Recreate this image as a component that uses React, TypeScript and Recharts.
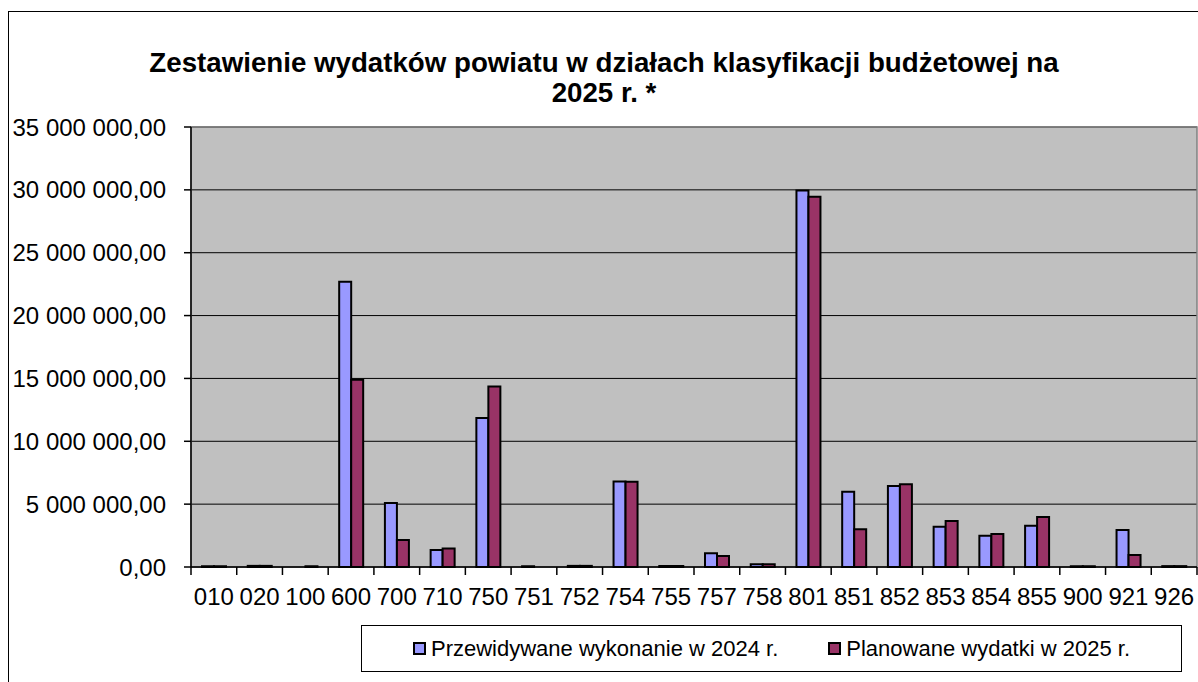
import { BarChart, Bar, XAxis, YAxis, CartesianGrid, ReferenceArea } from 'recharts';

const categories = ['010', '020', '100', '600', '700', '710', '750', '751', '752', '754', '755', '757', '758', '801', '851', '852', '853', '854', '855', '900', '921', '926'];
const wykonanie2024 = [60000, 90000, 0, 22700000, 5100000, 1350000, 11850000, 60000, 90000, 6800000, 80000, 1100000, 220000, 29950000, 5980000, 6450000, 3200000, 2480000, 3280000, 60000, 2950000, 70000];
const plan2025 = [60000, 90000, 60000, 14900000, 2150000, 1480000, 14350000, 0, 90000, 6780000, 80000, 880000, 220000, 29450000, 3000000, 6580000, 3650000, 2620000, 3980000, 60000, 960000, 70000];
const yTicks = [0, 5000000, 10000000, 15000000, 20000000, 25000000, 30000000, 35000000];
const seriesNames = ['Przewidywane wykonanie w 2024 r.', 'Planowane wydatki w 2025 r.'];
const seriesColors = ['#9999FF', '#993366'];
const titleLines = ['Zestawienie wydatków powiatu w działach klasyfikacji budżetowej na', '2025 r. *'];

const chartData = categories.map((c, i) => ({
  dzial: c,
  a: wykonanie2024[i],
  b: plan2025[i],
}));

const FONT = '"Liberation Sans", Arial, sans-serif';
const TICK_GAP = 21;

const formatPl = (v: number) =>
  Math.round(v).toString().replace(/\B(?=(\d{3})+(?!\d))/g, ' ') + ',00';

// category label + Excel-style tick marks on the band edges
const CategoryTick = (props: any) => {
  const { x, y, payload, index } = props;
  const half = payload.offset || 0;
  const axisY = y - TICK_GAP;
  const last = index === categories.length - 1;
  return (
    <g>
      <line x1={x - half} x2={x - half} y1={axisY} y2={axisY + 8} stroke="#000" strokeWidth={1.5} />
      {last && <line x1={x + half} x2={x + half} y1={axisY} y2={axisY + 8} stroke="#000" strokeWidth={1.5} />}
      <text x={x} y={y} dy="0.71em" textAnchor="middle" fontSize={24} fontFamily={FONT} fill="#000">
        {payload.value}
      </text>
    </g>
  );
};

export default function App() {
  return (
    <div style={{ position: 'relative', width: 1198, height: 682, overflow: 'hidden', fontFamily: FONT, background: '#fff' }}>
      <style>{`body{margin:0;overflow:hidden}`}</style>
      <div style={{ position: 'absolute', left: 8, top: 11, width: 1220, height: 720, border: '1px solid #000', boxSizing: 'border-box' }} />
      <div style={{ position: 'absolute', left: 8, width: 1192, top: 48, textAlign: 'center', fontWeight: 'bold', fontSize: 27.7, lineHeight: '30px', color: '#000' }}>
        {titleLines.map(t => <div key={t}>{t}</div>)}
      </div>
      <div style={{ position: 'absolute', left: 0, top: 0 }}>
        <BarChart
          width={1198}
          height={682}
          data={chartData}
          margin={{ top: 127, right: 1, bottom: 0, left: 0 }}
          barGap={0}
          barSize={12}
        >
          <CartesianGrid vertical={false} stroke="#000" strokeWidth={1} fill="#C0C0C0" fillOpacity={1} />
          <XAxis
            dataKey="dzial"
            height={115}
            interval={0}
            tickLine={false}
            tickSize={0}
            tickMargin={TICK_GAP}
            axisLine={{ stroke: '#000', strokeWidth: 1.5 }}
            tick={<CategoryTick />}
          />
          <YAxis
            width={191}
            domain={[0, 35000000]}
            ticks={yTicks}
            interval={0}
            tickSize={7}
            tickMargin={18}
            tickFormatter={formatPl}
            axisLine={{ stroke: '#000', strokeWidth: 1.5 }}
            tickLine={{ stroke: '#000', strokeWidth: 1.5 }}
            tick={{ fontSize: 24, fill: '#000', fontFamily: FONT }}
          />
          <ReferenceArea y1={0} y2={35000000} fill="none" stroke="#808080" strokeWidth={1.5} />
          <Bar dataKey="a" fill={seriesColors[0]} stroke="#000" strokeWidth={2} isAnimationActive={false} />
          <Bar dataKey="b" fill={seriesColors[1]} stroke="#000" strokeWidth={2} isAnimationActive={false} />
        </BarChart>
      </div>
      <div
        style={{
          position: 'absolute', left: 361, top: 625, width: 821, height: 47, boxSizing: 'border-box',
          border: '1px solid #000', background: '#fff', display: 'flex', alignItems: 'center', justifyContent: 'center', gap: 50,
        }}
      >
        {seriesNames.map((name, i) => (
          <div key={name} style={{ display: 'flex', alignItems: 'center', fontSize: 22, color: '#000' }}>
            <span style={{ display: 'inline-block', width: 9, height: 9, background: seriesColors[i], border: '2px solid #000', marginRight: 5 }} />
            {name}
          </div>
        ))}
      </div>
    </div>
  );
}
